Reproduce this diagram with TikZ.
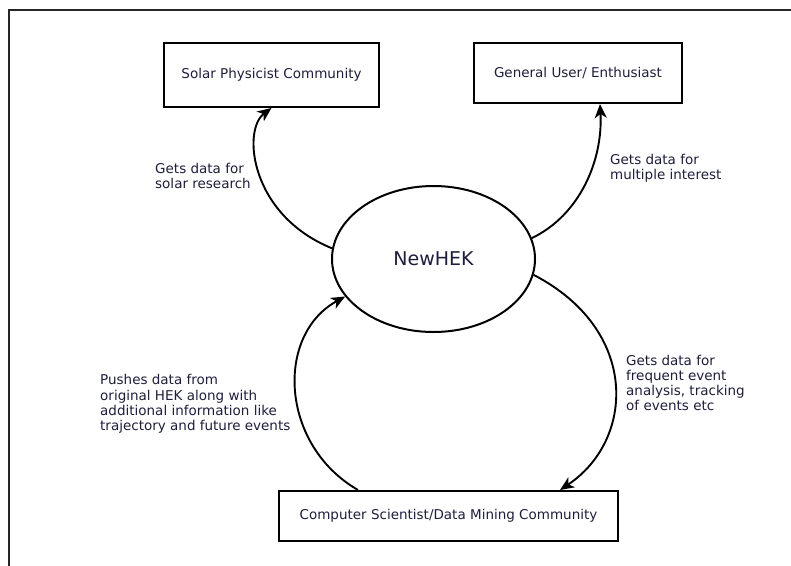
\documentclass[tikz,border=0pt]{standalone}
\usepackage{fontspec}
\setmainfont{DejaVu Sans}
\usetikzlibrary{arrows.meta,shapes.geometric}
\definecolor{labelink}{RGB}{30,30,60}

\begin{document}
\begin{tikzpicture}[x=1pt,y=-1pt]
		\tikzstyle{every node}+=[inner sep=0pt,text=labelink,font=\fontsize{13.5}{15.3}\selectfont]
		\tikzstyle{actor}=[draw=black,line width=2pt,rectangle]
		\tikzstyle{flow}=[draw=black,line width=1.9pt,-{Stealth[length=14pt,width=12pt,inset=4pt]}]
		\tikzstyle{note}=[anchor=west,align=left]
		\useasboundingbox (0,0) rectangle (791,565);
		\draw [black!85,line width=2pt] (9,566) -- (9,9.5) -- (792,9.5);
		\node [actor,minimum width=215pt,minimum height=64pt] (solar) at (271.5,75) {Solar Physicist Community};
		\node [actor,minimum width=208pt,minimum height=60pt] (general) at (578,73) {General User/ Enthusiast};
		\node [actor,minimum width=339pt,minimum height=50pt] (comp) at (448.5,516) {Computer Scientist/Data Mining Community};
		\node [draw=black,line width=2pt,ellipse,minimum width=203pt,minimum height=146pt,font=\fontsize{19}{22}\selectfont] (hek) at (433.5,259) {NewHEK};
		\draw [flow] (hek.174) .. controls (250,215) and (242,130) .. (solar.south);
		\draw [flow] (hek.12) .. controls (580,215) and (603,160) .. ([xshift=22pt]general.south);
		\draw [flow] (hek.351) .. controls (640,330) and (635,440) .. ([xshift=111.5pt]comp.north);
		\draw [flow] ([xshift=-90.5pt]comp.north) .. controls (280,445) and (275,335) .. (hek.203);
		\node [note] (solarnote) at (155,176) {Gets data for\\solar research};
		\node [note] (generalnote) at (610,168.5) {Gets data for\\multiple interest};
		\node [note] (pushnote) at (100,404) {Pushes data from\\original HEK along with\\additional information like\\trajectory and future events};
		\node [note] (compnote) at (626,383) {Gets data for\\frequent event\\analysis, tracking\\of events etc};
\end{tikzpicture}
\end{document}
